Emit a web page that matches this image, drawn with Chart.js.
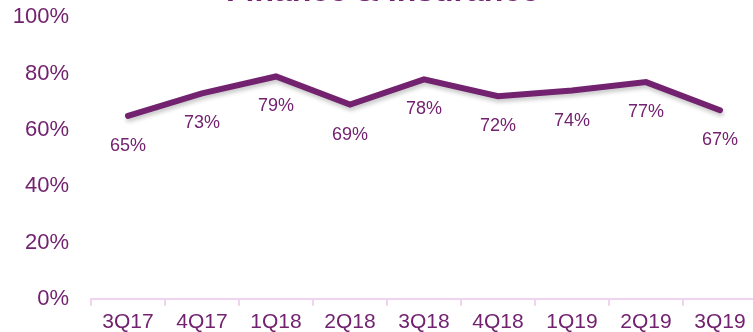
<!DOCTYPE html>
<html>
<head>
<meta charset="utf-8">
<script src="https://cdn.jsdelivr.net/npm/chart.js@4/dist/chart.umd.min.js"></script>
<style>
  html, body { margin: 0; padding: 0; background: #fff; overflow: hidden; }
  body { width: 753px; height: 332px; position: relative; }
  #wrap { position: absolute; left: 0; top: -27px; width: 770px; height: 366px; }
</style>
</head>
<body>
<div id="wrap"><canvas id="chart"></canvas></div>
<script>
const quarters = ['3Q17', '4Q17', '1Q18', '2Q18', '3Q18', '4Q18', '1Q19', '2Q19', '3Q19'];
const shareValues = [65, 73, 79, 69, 78, 72, 74, 77, 67];
const yTicks = [0, 20, 40, 60, 80, 100];

const PURPLE = '#72226f';
const AXIS_PINK = '#f0d3ee';
const FONT = '"Liberation Sans", Arial, sans-serif';

// soft drop shadow under the line
const lineShadow = {
  id: 'lineShadow',
  beforeDatasetDraw(chart) {
    const ctx = chart.ctx;
    ctx.save();
    ctx.shadowColor = 'rgba(0, 0, 0, 0.22)';
    ctx.shadowBlur = 4;
    ctx.shadowOffsetX = 1;
    ctx.shadowOffsetY = 3;
  },
  afterDatasetDraw(chart) {
    chart.ctx.restore();
  },
};

// percentage labels under each point
const pointLabels = {
  id: 'pointLabels',
  afterDatasetsDraw(chart) {
    const ctx = chart.ctx;
    const meta = chart.getDatasetMeta(0);
    ctx.save();
    ctx.fillStyle = PURPLE;
    ctx.font = `18px ${FONT}`;
    ctx.textAlign = 'center';
    ctx.textBaseline = 'middle';
    meta.data.forEach((pt, i) => {
      ctx.fillText(`${shareValues[i]}%`, pt.x, pt.y + 30);
    });
    ctx.restore();
  },
};

new Chart(document.getElementById('chart'), {
  type: 'line',
  data: {
    labels: quarters,
    datasets: [{
      data: shareValues,
      borderColor: PURPLE,
      borderWidth: 6,
      borderCapStyle: 'round',
      borderJoinStyle: 'miter',
      tension: 0,
      pointRadius: 0,
      fill: false,
    }],
  },
  options: {
    responsive: true,
    maintainAspectRatio: false,
    animation: false,
    layout: {
      padding: { left: 8, right: 13, top: 0, bottom: 0 },
    },
    plugins: {
      legend: { display: false },
      tooltip: { enabled: false },
      title: {
        display: true,
        text: 'Finance & Insurance',
        color: PURPLE,
        font: { family: FONT, size: 32, weight: 'bold' },
        padding: { top: 0, bottom: 6 },
      },
    },
    scales: {
      x: {
        offset: true,
        grid: {
          display: true,
          offset: true,
          drawOnChartArea: false,
          drawTicks: true,
          tickLength: 7,
          color: AXIS_PINK,
          lineWidth: 2,
        },
        border: { display: true, color: AXIS_PINK, width: 2 },
        ticks: {
          color: PURPLE,
          font: { family: FONT, size: 21 },
          padding: 4,
          maxRotation: 0,
        },
      },
      y: {
        min: 0,
        max: 100,
        afterBuildTicks(scale) {
          scale.ticks = yTicks.map(v => ({ value: v }));
        },
        afterFit(scale) {
          scale.width = 83;
        },
        grid: { display: false, drawTicks: false },
        border: { display: false },
        ticks: {
          color: PURPLE,
          font: { family: FONT, size: 22 },
          padding: 22,
          callback: v => `${v}%`,
        },
      },
    },
  },
  plugins: [lineShadow, pointLabels],
});
</script>
</body>
</html>
